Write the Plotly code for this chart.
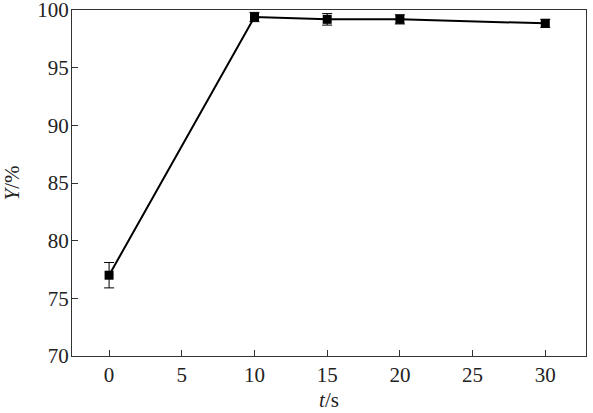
import plotly.graph_objects as go

t_s = [0, 10, 15, 20, 30]
yield_pct = [77.0, 99.4, 99.2, 99.2, 98.85]
yield_err = [1.1, 0.4, 0.5, 0.4, 0.35]

x_ticks = [0, 5, 10, 15, 20, 25, 30]
y_ticks = [70, 75, 80, 85, 90, 95, 100]

font = {"family": "Liberation Serif", "size": 21, "color": "#222"}

fig = go.Figure()
fig.add_trace(
    go.Scatter(
        x=t_s,
        y=yield_pct,
        mode="lines+markers",
        line={"color": "black", "width": 2},
        marker={"symbol": "square", "size": 9, "color": "black"},
        error_y={"type": "data", "array": yield_err, "visible": True,
                 "color": "black", "thickness": 1, "width": 5},
        showlegend=False,
    )
)
axis_common = dict(
    showline=True, linecolor="#333", linewidth=1.3, mirror=True,
    ticks="inside", ticklen=6, tickcolor="#333", tickwidth=1.3,
    showgrid=False, zeroline=False, tickfont=font,
    automargin=False, ticklabeloverflow="allow",
)
fig.update_xaxes(
    range=[-2.55, 32.8], tickvals=x_ticks, ticklabelstandoff=0,
    title={"text": "<i>t</i>/s", "font": font, "standoff": 5},
    **axis_common,
)
fig.update_yaxes(
    range=[69.99, 100.01], tickvals=y_ticks, ticklabelstandoff=-2,
    title={"text": "<i>Y</i>/%", "font": font, "standoff": 12},
    **axis_common,
)
fig.update_layout(
    width=593, height=413,
    paper_bgcolor="white", plot_bgcolor="white",
    margin={"l": 72, "r": 7, "t": 10, "b": 57},
)
# drop the page's default body margin so the figure sits at the window corner
fig.write_html(
    "out.html",
    config={"displayModeBar": False},
    post_script="document.body.style.margin = '0';",
)
